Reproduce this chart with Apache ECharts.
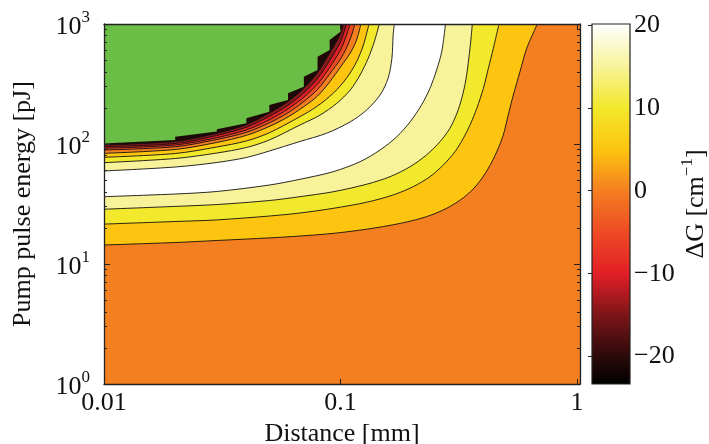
<!DOCTYPE html>
<html><head><meta charset="utf-8">
<script src="https://cdn.jsdelivr.net/npm/echarts@6/dist/echarts.min.js"></script>
<style>html,body{margin:0;padding:0;background:#fff}#c{width:709px;height:444px}</style>
</head><body><div id="c"></div>
<script>
// ---- axes ----
const xMin = 0.01, xMax = 1.03;
const yMin = 1, yMax = 1000;
const xTickValues = [0.01, 0.1, 1];
const xTickLabels = ['0.01', '0.1', '1'];
const cbMin = -23.3, cbMax = 20.1;
const cbTicks = [-20, -10, 0, 10, 20];

// ---- colour map (ΔG value -> colour) ----
const cmapValues = [-23.3, -20, -15, -10, -5, 0, 5, 10, 15, 20, 20.1];
const cmapColors = ['#000000', '#2a0909', '#7c1518', '#e11f26', '#ee4a24', '#f47f20', '#fdc50f', '#f2e82c', '#f8f39b', '#ffffff', '#ffffff'];
const levelList = [-20, -15, -10, -5, 0, 5, 10, 15, 20];
const levelFill = ['#1e0808', '#8a1a1c', '#e11f26', '#ee4a24', '#f47f20', '#fdc50f', '#f2e82c', '#f8f39b', '#ffffff'];
const nanColor = '#6abd45';

// ---- contour lines: distance [mm], pump energy [pJ]; fill level = band above the line ----
const cA_x = [0.01,0.02,0.03,0.05,0.0674,0.0932,0.129,0.179,0.231,0.281,0.331,0.377,0.422,0.458,0.488,0.512,0.538,0.574,0.613,0.680];
const cA_y = [14.4,15.1,15.7,16.5,17.1,18.0,19.5,21.8,24.8,29.1,35.7,45.5,62.7,86.3,119,174,256,400,627,1000];
const cB_x = [0.01,0.02,0.03,0.05,0.0674,0.0932,0.129,0.167,0.203,0.239,0.272,0.305,0.331,0.353,0.377,0.402,0.422,0.443,0.468];
const cB_y = [21.5,22.6,23.3,25.1,26.6,29.1,32.7,37.6,44.1,53.4,66.8,86.3,112,144,198,291,427,627,1000];
const cC_x = [0.01,0.02,0.03,0.05,0.0674,0.0932,0.129,0.162,0.197,0.231,0.264,0.290,0.311,0.326,0.339,0.349,0.356,0.361];
const cC_y = [28.6,30.2,31.3,33.8,36.4,40.0,46.2,53.4,64.7,81.0,105,135,181,242,342,521,736,1000];
const cD_x = [0.01,0.02,0.03,0.05,0.0674,0.0932,0.121,0.147,0.173,0.197,0.220,0.239,0.255,0.268,0.278];
const cD_y = [36.4,38.3,40.2,45.5,50.8,58.8,71.2,89.1,115,153,211,291,414,588,1000];
const cE_x = [0.01,0.02,0.03,0.04,0.05,0.0674,0.0874,0.110,0.129,0.147,0.159,0.165,0.167,0.169];
const cE_y = [59.6,64.3,70.1,77.2,87.4,105,123,153,192,256,353,518,810,1000];
const cF_x = [0.01,0.02,0.03,0.04,0.05,0.0674,0.0819,0.0964,0.110,0.121,0.131,0.139,0.146];
const cF_y = [69.9,75.7,84.1,93.5,108,144,174,218,282,376,518,712,1000];
const cG_x = [0.01,0.02,0.03,0.04,0.05,0.0674,0.0793,0.0932,0.106,0.117,0.125,0.132];
const cG_y = [77.5,83.3,94.4,106,124,169,205,265,353,485,668,1000];
const cH_x = [0.01,0.02,0.03,0.04,0.05,0.06,0.07,0.08,0.09,0.1,0.11,0.117,0.122];
const cH_y = [83.6,90.0,103,118,140,168,205,251,329,438,573,736,1000];
const cI_x = [0.01,0.02,0.03,0.04,0.05,0.06,0.07,0.08,0.09,0.1,0.106,0.1115,0.115];
const cI_y = [89.1,94.8,109,125,150,182,226,285,383,511,631,810,1000];
const cJ_x = [0.01,0.02,0.03,0.04,0.05,0.06,0.07,0.08,0.09,0.1,0.105,0.110];
const cJ_y = [92.1,98.1,113,131,159,196,246,316,434,607,764,1000];
const cK_x = [0.01,0.02,0.03,0.04,0.05,0.06,0.07,0.08,0.09,0.1,0.106];
const cK_y = [95.0,101,118,138,170,210,267,351,496,708,1000];
const cL_x = [0.01,0.02,0.03,0.04,0.05,0.06,0.07,0.08,0.09,0.1,0.1026];
const cL_y = [98.1,105,123,145,181,226,292,394,573,825,1000];
const contourFillLevel = [5, 10, 15, 20, 15, 10, 5, 0, -5, -10, -15, -20];

// ---- region without data (staircase) ----
const nan_x = [0.01,0.02,0.02,0.03,0.03,0.04,0.04,0.05,0.05,0.06,0.06,0.07,0.07,0.08,0.08,0.09,0.09,0.1,0.1];
const nan_y = [101,108,115,127,133,149,164,186,211,233,265,300,364,414,534,607,736,863,1000];

// ---------------------------------------------------------------
const FONT = 'Liberation Serif';
const FS = 26;
const contours = [[cA_x,cA_y],[cB_x,cB_y],[cC_x,cC_y],[cD_x,cD_y],[cE_x,cE_y],[cF_x,cF_y],
                  [cG_x,cG_y],[cH_x,cH_y],[cI_x,cI_y],[cJ_x,cJ_y],[cK_x,cK_y],[cL_x,cL_y]];
const pair = (xs, ys) => xs.map((v, i) => [v, ys[i]]);
const series = contours.map((c, i) => ({
  type: 'line', xAxisIndex: 0, yAxisIndex: 0, data: pair(c[0], c[1]),
  smooth: 0.3, symbol: 'none', silent: true, animation: false, z: 2 + i,
  lineStyle: { color: '#111111', width: 0.9 },
  areaStyle: { origin: 'end', opacity: 1, color: levelFill[levelList.indexOf(contourFillLevel[i])] }
}));
series.push({
  type: 'line', xAxisIndex: 0, yAxisIndex: 0, data: pair(nan_x, nan_y),
  symbol: 'none', silent: true, animation: false, z: 30,
  lineStyle: { width: 0, color: nanColor }, areaStyle: { origin: 'end', opacity: 1, color: nanColor }
});
const stops = cmapValues.map((v, i) => ({ offset: (cbMax - v) / (cbMax - cbMin), color: cmapColors[i] })).reverse();
series.push({
  type: 'custom', xAxisIndex: 2, yAxisIndex: 2, silent: true, animation: false, z: 5,
  data: [[0, cbMin, 1, cbMax]],
  renderItem: (params, api) => {
    const p0 = api.coord([api.value(0), api.value(3)]);
    const p1 = api.coord([api.value(2), api.value(1)]);
    return { type: 'rect', shape: { x: p0[0], y: p0[1], width: p1[0] - p0[0], height: p1[1] - p0[1] },
      style: { fill: new echarts.graphic.LinearGradient(0, 0, 0, 1, stops), stroke: '#222', lineWidth: 1.2 } };
  }
});

const axisLineStyle = { show: true, onZero: false, lineStyle: { color: '#222', width: 1.3 } };
const supRich = {
  b: { fontFamily: FONT, fontSize: FS, color: '#111', lineHeight: 36 },
  s: { fontFamily: FONT, fontSize: 17, color: '#111', lineHeight: 12, verticalAlign: 'top' },
  n: { fontFamily: FONT, fontSize: FS, color: '#111', lineHeight: 36 }
};
const xFmt = v => { const i = xTickValues.findIndex(t => Math.abs(t - v) / t < 1e-6); return i >= 0 ? xTickLabels[i] : ''; };

const option = {
  animation: false,
  backgroundColor: '#ffffff',
  grid: [
    { left: 104, top: 24, width: 476, height: 360, show: true, backgroundColor: levelFill[levelList.indexOf(0)], borderWidth: 0,
      containLabel: false, outerBoundsMode: 'none' },
    { left: 592, top: 24, width: 38, height: 360, containLabel: false, outerBoundsMode: 'none' }
  ],
  xAxis: [
    { gridIndex: 0, type: 'log', logBase: 10, min: xMin, max: xMax, position: 'bottom', z: 50,
      axisLine: axisLineStyle,
      axisTick: { show: true, inside: true, length: 5, customValues: xTickValues, lineStyle: { color: '#222' } },
      axisLabel: { customValues: xTickValues, formatter: xFmt, fontFamily: FONT, fontSize: FS, color: '#111', margin: 6 },
      splitLine: { show: false },
      name: 'Distance [mm]', nameLocation: 'middle', nameGap: 27,
      nameTextStyle: { fontFamily: FONT, fontSize: FS, color: '#111' } },
    { gridIndex: 0, type: 'log', logBase: 10, min: xMin, max: xMax, position: 'top', z: 50,
      axisLine: axisLineStyle,
      axisTick: { show: true, inside: true, length: 5, customValues: xTickValues, lineStyle: { color: '#222' } },
      axisLabel: { show: false }, splitLine: { show: false } },
    { gridIndex: 1, type: 'value', min: 0, max: 1, show: false }
  ],
  yAxis: [
    { gridIndex: 0, type: 'log', logBase: 10, min: yMin, max: yMax, position: 'left', z: 50,
      axisLine: axisLineStyle,
      axisTick: { show: true, inside: true, length: 6, lineStyle: { color: '#222' } },
      minorTick: { show: true, splitNumber: 9, length: 3, lineStyle: { color: '#222' } },
      axisLabel: { formatter: v => '{b|10}{s|' + Math.round(Math.log10(v)) + '}', rich: supRich, margin: 14, padding: [7, 0, 0, 0] },
      splitLine: { show: false }, minorSplitLine: { show: false },
      name: 'Pump pulse energy [pJ]', nameLocation: 'middle', nameGap: 68, nameRotate: 90,
      nameTextStyle: { fontFamily: FONT, fontSize: FS, color: '#111' } },
    { gridIndex: 0, type: 'log', logBase: 10, min: yMin, max: yMax, position: 'right', z: 50,
      axisLine: axisLineStyle,
      axisTick: { show: true, inside: true, length: 6, lineStyle: { color: '#222' } },
      minorTick: { show: true, splitNumber: 9, length: 3, lineStyle: { color: '#222' } },
      axisLabel: { show: false }, splitLine: { show: false }, minorSplitLine: { show: false } },
    { gridIndex: 1, type: 'value', min: cbMin, max: cbMax, position: 'right', z: 50,
      axisLine: { show: false },
      axisTick: { show: true, inside: true, length: 4, customValues: cbTicks, lineStyle: { color: '#222' } },
      axisLabel: { customValues: cbTicks, formatter: v => (v < 0 ? '\u2212' + Math.abs(v) : String(v)),
                   fontFamily: FONT, fontSize: FS, color: '#111', margin: 4 },
      splitLine: { show: false },
      name: '{n|\u0394G [cm}{s|\u22121}{n|]}', nameLocation: 'middle', nameGap: 46, nameRotate: 90,
      nameTextStyle: { rich: supRich } }
  ],
  series: series
};
const chart = echarts.init(document.getElementById('c'), null, { renderer: 'canvas' });
chart.setOption(option);
</script></body></html>
